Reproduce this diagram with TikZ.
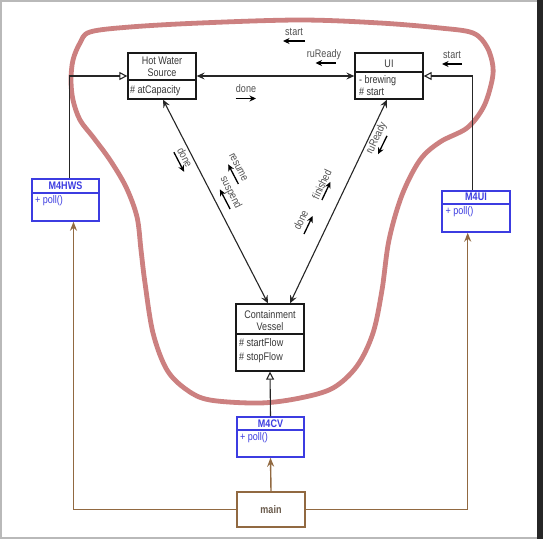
\documentclass[tikz,border=0pt]{standalone}
\usepackage{fontspec}
\setmainfont{Liberation Sans}
\usetikzlibrary{arrows.meta}
\definecolor{blobred}{RGB}{204,128,128}
\definecolor{umlblue}{RGB}{60,60,225}
\definecolor{umlbrown}{RGB}{145,105,65}
\definecolor{txtgray}{RGB}{55,55,55}
\definecolor{lblgray}{RGB}{80,80,80}
\begin{document}
\begin{tikzpicture}[x=1pt,y=-1pt,
  cbox/.style={draw=black!90, line width=1.3pt, inner sep=0pt, fill=white},
  mbox/.style={draw=umlblue, line width=1.5pt, inner sep=0pt, fill=white},
  brbox/.style={draw=umlbrown, line width=1.5pt, inner sep=0pt, fill=white},
  divline/.style={draw=black!90, line width=1.3pt},
  txt/.style={font=\fontsize{11}{12.3}\selectfont, text=txtgray, inner sep=0pt, xscale=0.82},
  lbl/.style={txt, text=lblgray},
  ttl/.style={txt, font=\bfseries\fontsize{11}{12.3}\selectfont, text=umlblue},
  conn/.style={draw=black!85, line width=1.1pt},
  biarr/.style={conn, {Stealth[length=8pt,width=7pt,inset=3pt]}-{Stealth[length=8pt,width=7pt,inset=3pt]}},
  inh/.style={conn, -{Triangle[open,length=8pt,width=8pt,line width=1.1pt]}},
  bconn/.style={draw=umlbrown, line width=1.4pt, -{Stealth[length=9pt,width=7pt,inset=3pt]}},
  sarr/.style={draw=black, line width=1.3pt, -{Stealth[length=6.5pt,width=6pt,inset=2pt]}}
]
\useasboundingbox (0,0) rectangle (543,539);
% screenshot frame
\fill[gray!55] (0,0) rectangle (543,539);
\fill[black!85] (537,0) rectangle (543,539);
\fill[white] (2,2) rectangle (537,537);

% red blob
\draw[blobred, line width=4.8pt] plot[smooth cycle, tension=0.55] coordinates {
 (90,32) (130,27) (200,23) (300,20) (380,23) (440,28) (473,33) (487,47) (493,67)
 (491,85) (483,108) (467,128) (440,142) (420,160) (402,195) (389,240) (382,290)
 (373,333) (357,366) (333,388) (300,398) (260,403) (210,400) (187,390) (167,370)
 (153,333) (145,283) (141,250) (137,217) (126,187) (110,160) (93,137) (80,120)
 (73,100) (71,80) (73,60) (80,43)};

% Hot Water Source
\node[cbox, minimum width=68pt, minimum height=46pt] (hws) at (162,76) {};
\draw[divline] (hws.west |- 0,80) -- (hws.east |- 0,80);
\node[txt, align=center] (hwsname) at (162,67) {Hot Water\\Source};
\node[txt, anchor=base west] (hwsattr) at (130,93) {\# atCapacity};

% UI
\node[cbox, minimum width=68pt, minimum height=46pt] (ui) at (389,76) {};
\draw[divline] (ui.west |- 0,72) -- (ui.east |- 0,72);
\node[txt, anchor=base] (uiname) at (389,67.3) {UI};
\node[txt, anchor=base west] (uiattr1) at (359,83.5) {- brewing};
\node[txt, anchor=base west] (uiattr2) at (359,95.7) {\# start};

% Containment Vessel
\node[cbox, minimum width=68pt, minimum height=67pt] (cv) at (270,337.5) {};
\draw[divline] (cv.west |- 0,334) -- (cv.east |- 0,334);
\node[txt, align=center] (cvname) at (270,320.7) {Containment\\Vessel};
\node[txt, anchor=base west] (cvattr1) at (239,346.7) {\# startFlow};
\node[txt, anchor=base west] (cvattr2) at (239,360.7) {\# stopFlow};

% M4HWS
\node[mbox, minimum width=67pt, minimum height=42pt] (m4hws) at (65.5,200) {};
\draw[umlblue, line width=1.5pt] (m4hws.west |- 0,193) -- (m4hws.east |- 0,193);
\node[ttl, anchor=base] (m4hwsname) at (65.5,189.5) {M4HWS};
\node[txt, text=umlblue, anchor=base west] (m4hwsop) at (35,203.5) {+ poll()};

% M4UI
\node[mbox, minimum width=68pt, minimum height=41pt] (m4ui) at (476,211.5) {};
\draw[umlblue, line width=1.5pt] (m4ui.west |- 0,204) -- (m4ui.east |- 0,204);
\node[ttl, anchor=base] (m4uiname) at (476,200.8) {M4UI};
\node[txt, text=umlblue, anchor=base west] (m4uiop) at (445.5,214) {+ poll()};

% M4CV
\node[mbox, minimum width=67pt, minimum height=40pt] (m4cv) at (270.5,437) {};
\draw[umlblue, line width=1.5pt] (m4cv.west |- 0,430) -- (m4cv.east |- 0,430);
\node[ttl, anchor=base] (m4cvname) at (270.5,427.3) {M4CV};
\node[txt, text=umlblue, anchor=base west] (m4cvop) at (240,440.5) {+ poll()};

% main
\node[brbox, minimum width=68pt, minimum height=35pt] (main) at (271,509.5) {};
\node[txt, font=\bfseries\fontsize{11}{12.3}\selectfont, text={rgb,255:red,105;green,90;blue,75}, anchor=base] (mainname) at (271,513) {main};

% connectors
\draw[biarr] (hws.east) -- (ui.west);
\draw[inh] ([xshift=4pt]m4hws.north) |- (hws.west);
\draw[inh] ([xshift=-3.5pt]m4ui.north) |- (ui.east);
\draw[inh] (m4cv.north) -- (cv.south);
\draw[biarr] ([xshift=1pt]hws.south) -- ([xshift=-2pt]cv.north);
\draw[biarr] ([xshift=-2pt]ui.south) -- ([xshift=20pt]cv.north);
\draw[bconn] (main.north) -- (m4cv.south);
\draw[bconn] (main.west) -| ([xshift=8pt]m4hws.south);
\draw[bconn] (main.east) -| ([xshift=-8.3pt]m4ui.south);

% message labels (top)
\node[lbl, anchor=base] (mstart1) at (294,35) {start};
\draw[sarr] (305,41) -- (283,41);
\node[lbl, anchor=base] (mready1) at (324,57.5) {ruReady};
\draw[sarr] (335.5,63) -- (315.5,63);
\node[lbl, anchor=base] (mstart2) at (452,58) {start};
\draw[sarr] (462,64) -- (442,64);
\node[lbl, anchor=base] (mdone1) at (246,92) {done};
\draw[sarr] (235.5,98.5) -- (256,98.5);

% message labels along HWS--CV
\node[rotate=-62.9, lbl] (mdone2) at (185,157.3) {done};
\draw[sarr] (173.9,152.2) -- (184.1,171.8);
\node[rotate=-62.9, lbl] (mresume) at (238.3,167.3) {resume};
\draw[sarr] (238.4,184.0) -- (228.2,164.4);
\node[rotate=-62.9, lbl] (msuspend) at (230.7,192.7) {suspend};
\draw[sarr] (230.1,209.0) -- (219.9,189.4);

% message labels along UI--CV
\node[rotate=64.7, lbl] (mready2) at (376.7,138.3) {ruReady};
\draw[sarr] (387.0,135.8) -- (378.0,154.2);
\node[rotate=64.7, lbl] (mfinished) at (321.7,184.3) {finished};
\draw[sarr] (321.9,200.0) -- (330.5,181.8);
\node[rotate=64.7, lbl] (mdone3) at (300.7,220) {done};
\draw[sarr] (304.0,234.0) -- (312.6,216.0);
\end{tikzpicture}
\end{document}
